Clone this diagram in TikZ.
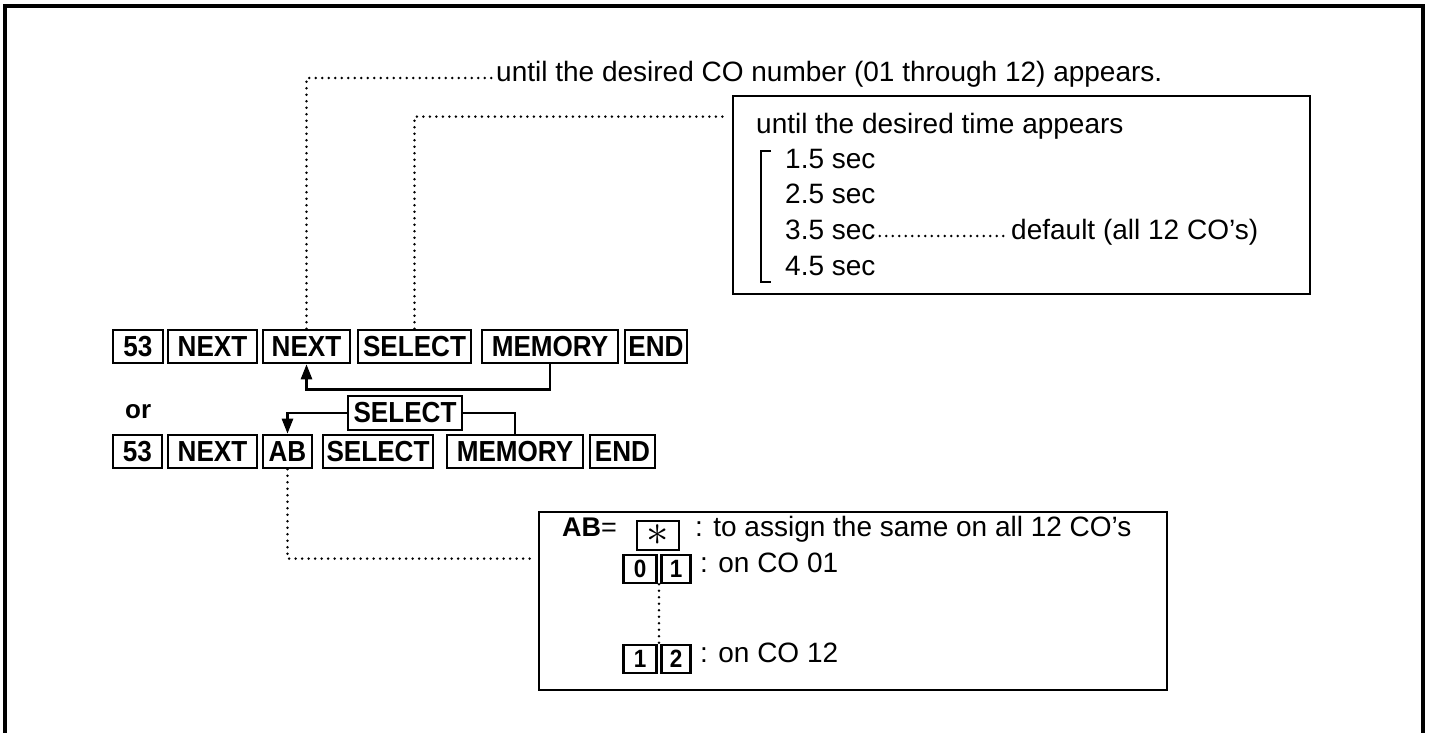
\documentclass[tikz,border=0pt]{standalone}
\usepackage{fontspec}
\usepackage{graphicx}
\setmainfont{Liberation Sans}
\newfontfamily\keyfont[FakeStretch=0.9]{Liberation Sans}
\usetikzlibrary{arrows.meta,calc}
\begin{document}
\begin{tikzpicture}[x=1pt,y=-1pt,
 key/.style={draw,line width=2.6pt,inner sep=0pt,minimum height=33pt,font=\keyfont\fontsize{29}{29}\selectfont\bfseries},
 smallkey/.style={key,minimum height=28pt,font=\keyfont\fontsize{25}{25}\selectfont\bfseries},
 lbl/.style={inner sep=0pt,anchor=west,text height=0.72em,text depth=0pt,font=\fontsize{28}{28}\selectfont},
 dots/.style={line width=2.8pt,dash pattern=on 0pt off 6.5pt,line cap=round},
 conn/.style={line width=2.6pt,-{Triangle[length=15pt,width=11pt]}},
 plain/.style={line width=2.6pt},
 frame/.style={draw,line width=2.8pt,inner sep=0pt}]
\useasboundingbox (0,0) rectangle (1429,732);
\draw[line width=3.5pt,line join=miter] (5,745) -- (5,6) -- (1423,6) -- (1423,745);

% row 1
\node[key,minimum width=50pt]  (r1a) at (138,346.5) {53};
\node[key,minimum width=89pt]  (r1b) at (212.5,346.5) {NEXT};
\node[key,minimum width=87pt]  (r1c) at (306.5,346.5) {NEXT};
\node[key,minimum width=113pt] (r1d) at (414.5,346.5) {SELECT};
\node[key,minimum width=136pt] (r1e) at (550,346.5) {MEMORY};
\node[key,minimum width=62pt]  (r1f) at (656,346.5) {END};
\draw[conn] (r1e.south) -- ++(0,25) -| (r1c.south);

% or
\node[inner sep=0pt,anchor=west,font=\fontsize{26}{26}\selectfont\bfseries] (or) at (125,412) {or};

% row 2
\node[key,minimum width=49pt]  (r2a) at (137.5,451.5) {53};
\node[key,minimum width=89pt]  (r2b) at (212.5,451.5) {NEXT};
\node[key,minimum width=49pt]  (r2c) at (287.5,451.5) {AB};
\node[key,minimum width=110pt] (r2d) at (378,451.5) {SELECT};
\node[key,minimum width=136pt] (r2e) at (515,451.5) {MEMORY};
\node[key,minimum width=65pt]  (r2f) at (622.5,451.5) {END};
\node[key,minimum width=114pt,minimum height=34pt] (sf) at (405,413) {SELECT};
\draw[conn] (sf.west) -| (r2c.north);
\draw[plain] (sf.east) -| (r2e.north);

% top text
\node[lbl] (top) at (496,78) {until the desired CO number (01 through 12) appears.};
\draw[dots] (r1c.north) |- ($(top.west)+(-3,0)$);

% time box
\node[frame,minimum width=577pt,minimum height=198pt] (tbox) at (1021.5,195) {};
\draw[dots] (r1d.north) |- ($(tbox.north west)+(-3,22)$);
\node[lbl] (ttl) at (756,130) {until the desired time appears};
\draw[line width=2.4pt] (771,151) -- (761,151) -- (761,282) -- (771,282);
\node[lbl] (t1) at (785,165) {1.5 sec};
\node[lbl] (t2) at (785,200) {2.5 sec};
\node[lbl] (t3) at (785,236) {3.5 sec};
\node[lbl] (t4) at (785,272) {4.5 sec};
\node[lbl] (def) at (1011,236) {default (all 12 CO’s)};
\draw[dots] ($(t3.east)+(4,0)$) -- ($(def.west)+(-3,0)$);

% AB box
\node[frame,minimum width=628pt,minimum height=178pt] (abox) at (853,601) {};
\draw[dots] (r2c.south) |- ($(abox.north west)+(-3,48)$);
\node[lbl,font=\fontsize{27}{27}\selectfont] (abeq) at (562,533) {\textbf{AB}=};
\node[key,minimum width=42pt,minimum height=29pt] (kst) at (658,535.5) {\scalebox{1.8}{$\ast$}};
\node[lbl] (as) at (695,533) {: to assign the same on all 12 CO’s};
\node[smallkey,minimum width=33pt] (k0) at (640,569) {0};
\node[smallkey,minimum width=29pt] (k1) at (676,569) {1};
\node[lbl] (c01) at (700,569) {: on CO 01};
\node[smallkey,minimum width=33pt] (k1b) at (640,659) {1};
\node[smallkey,minimum width=29pt] (k2) at (676,659) {2};
\node[lbl] (c12) at (700,659) {: on CO 12};
\draw[dots] ($(k0.south east)!0.5!(k1.south west)$) -- ($(k1b.north east)!0.5!(k2.north west)$);
\end{tikzpicture}
\end{document}
